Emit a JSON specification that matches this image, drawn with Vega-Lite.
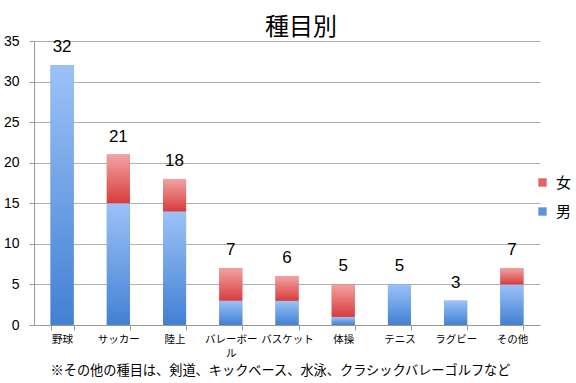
{
  "$schema": "https://vega.github.io/schema/vega-lite/v6.json",
  "width": 506,
  "height": 284,
  "autosize": "none",
  "padding": {"left": 34, "top": 41, "right": 36, "bottom": 58},
  "background": "white",
  "title": {"text": "種目別", "font": "Noto Sans CJK JP", "fontSize": 24, "fontWeight": "normal", "color": "#000000", "anchor": "middle", "offset": 0, "dy": 6, "dx": 14},
  "config": {"view": {"stroke": null}},
  "data": {"values": [
    {"sport": "野球", "sex": "男", "n": 32},
    {"sport": "サッカー", "sex": "男", "n": 15},
    {"sport": "サッカー", "sex": "女", "n": 6},
    {"sport": "陸上", "sex": "男", "n": 14},
    {"sport": "陸上", "sex": "女", "n": 4},
    {"sport": "バレーボール", "sex": "男", "n": 3},
    {"sport": "バレーボール", "sex": "女", "n": 4},
    {"sport": "バスケット", "sex": "男", "n": 3},
    {"sport": "バスケット", "sex": "女", "n": 3},
    {"sport": "体操", "sex": "男", "n": 1},
    {"sport": "体操", "sex": "女", "n": 4},
    {"sport": "テニス", "sex": "男", "n": 5},
    {"sport": "ラグビー", "sex": "男", "n": 3},
    {"sport": "その他", "sex": "男", "n": 5},
    {"sport": "その他", "sex": "女", "n": 2}
  ]},
  "encoding": {
    "x": {
      "field": "sport", "type": "nominal", "sort": null,
      "scale": {"paddingInner": 0.59, "paddingOuter": 0.295},
      "axis": {
        "title": "※その他の種目は、剣道、キックベース、水泳、クラシックバレーゴルフなど",
        "titleFont": "Noto Sans CJK JP", "titleFontSize": 13.2, "titleFontWeight": "normal", "titleColor": "#000000", "titlePadding": 6, "titleX": 246,
        "labelAngle": 0, "labelFont": "Noto Sans CJK JP", "labelFontSize": 10.5, "labelColor": "#000000", "labelPadding": 4,
        "labelExpr": "datum.value === 'バレーボール' ? ['バレーボー', 'ル'] : datum.value",
        "tickBand": "extent", "tickSize": 5, "tickColor": "#999999", "domainColor": "#999999", "labelLineHeight": 14
      }
    },
    "y": {
      "field": "n", "type": "quantitative", "aggregate": "sum", "stack": "zero",
      "scale": {"domain": [0, 35]},
      "axis": {
        "title": null, "values": [0, 5, 10, 15, 20, 25, 30, 35],
        "labelFont": "Liberation Sans", "labelFontSize": 14, "labelColor": "#000000", "labelPadding": 10,
        "tickSize": 5, "tickColor": "#999999", "domainColor": "#999999", "gridColor": "#b0b0b0"
      }
    }
  },
  "layer": [
    {
      "mark": {"type": "bar"},
      "encoding": {
        "color": {
          "field": "sex", "type": "nominal",
          "scale": {"domain": ["女", "男"], "range": ["#e06262", "#5c93e0"]},
          "legend": {
            "title": null, "orient": "none", "legendX": 501, "legendY": 134,
            "symbolType": "square", "symbolSize": 70, "symbolStrokeWidth": 0,
            "labelFont": "Noto Sans CJK JP", "labelFontSize": 15, "labelColor": "#000000", "labelOffset": 6, "rowPadding": 13
          }
        },
        "order": {"field": "sex", "sort": "descending"}
      }
    },
    {
      "mark": {"type": "bar"},
      "encoding": {
        "color": {
          "condition": {"test": "datum.sex === '女'", "value": {"gradient": "linear", "x1": 0, "y1": 0, "x2": 0, "y2": 1, "stops": [{"offset": 0, "color": "#f2a3a3"}, {"offset": 1, "color": "#d83c3c"}]}},
          "value": {"gradient": "linear", "x1": 0, "y1": 0, "x2": 0, "y2": 1, "stops": [{"offset": 0, "color": "#9cc2f7"}, {"offset": 1, "color": "#4280d4"}]}
        },
        "order": {"field": "sex", "sort": "descending"}
      }
    },
    {
      "transform": [{"aggregate": [{"op": "sum", "field": "n", "as": "total"}], "groupby": ["sport"]}],
      "mark": {"type": "text", "baseline": "alphabetic", "dy": -13, "font": "Liberation Sans", "fontSize": 17, "color": "#000000"},
      "encoding": {
        "y": {"field": "total", "type": "quantitative"},
        "text": {"field": "total", "type": "quantitative"}
      }
    }
  ]
}
